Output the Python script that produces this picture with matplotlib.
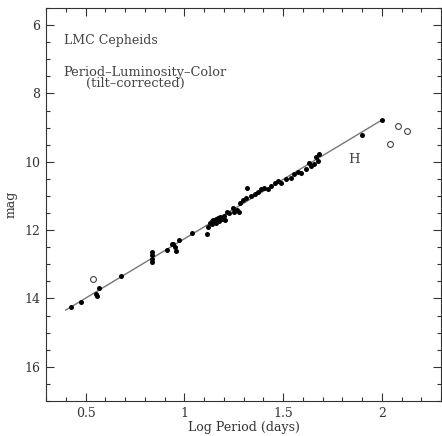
import numpy as np
import matplotlib
matplotlib.use('Agg')
import matplotlib.pyplot as plt
from matplotlib.ticker import MultipleLocator

# filled points: log period (days), H mag
logp = [0.426, 0.477, 0.554, 0.558, 0.569, 0.682,
        0.835, 0.835, 0.835, 0.838, 0.913, 0.936, 0.945, 0.951, 0.960, 0.973,
        1.040, 1.115, 1.120, 1.128, 1.138, 1.148, 1.159, 1.169, 1.179,
        1.143, 1.159, 1.174, 1.189, 1.200, 1.204, 1.218, 1.229, 1.251, 1.246,
        1.265, 1.276, 1.280, 1.296, 1.314, 1.319, 1.339, 1.356, 1.372, 1.389,
        1.406, 1.423, 1.440, 1.457, 1.473, 1.490, 1.516, 1.541, 1.558, 1.574,
        1.591, 1.617, 1.630, 1.642, 1.659, 1.675, 1.684, 1.667, 1.900, 2.003]
hmag = [14.24, 14.10, 13.86, 13.93, 13.69, 13.35,
        12.63, 12.72, 12.85, 12.92, 12.59, 12.41, 12.40, 12.50, 12.62, 12.29,
        12.09, 12.12, 11.91, 11.79, 11.74, 11.71, 11.68, 11.65, 11.63,
        11.82, 11.79, 11.74, 11.68, 11.59, 11.69, 11.46, 11.50, 11.46, 11.36,
        11.41, 11.46, 11.20, 11.13, 11.07, 10.76, 11.00, 10.95, 10.87, 10.80,
        10.76, 10.80, 10.71, 10.61, 10.56, 10.61, 10.51, 10.46, 10.36, 10.29,
        10.34, 10.21, 10.05, 10.12, 10.07, 9.97, 9.77, 9.87, 9.21, 8.79]

# rejected stars (open circles)
logp_rej = [0.536, 2.084, 2.130, 2.040]
hmag_rej = [13.42, 8.94, 9.11, 9.48]

# PL fit
fit_slope = -3.475
fit_intercept = 15.73
fit_range = [0.40, 2.00]

ink = '#333333'
serif = ['DejaVu Serif']

fig = plt.figure(figsize=(4.42, 4.36), dpi=100)
ax = fig.add_axes([46/442, 1-401/436, 395/442, 393/436])

xf = np.array(fit_range)
ax.plot(xf, np.polyval([fit_slope, fit_intercept], xf), color='#777777', lw=1.0, zorder=1)
ax.plot(logp, hmag, 'o', color='black', ms=3.6, mew=0, zorder=3)
ax.plot(logp_rej, hmag_rej, 'o', mfc='white', mec='#444444', ms=4.2, mew=0.8, zorder=3)

ax.set_xlim(0.3, 2.3)
ax.set_ylim(17, 5.5)
ax.set_xticks([0.5, 1, 1.5, 2], ['0.5', '1', '1.5', '2'])
ax.set_yticks([6, 8, 10, 12, 14, 16])
ax.xaxis.set_minor_locator(MultipleLocator(0.1))
ax.yaxis.set_minor_locator(MultipleLocator(0.5))
ax.tick_params(which='both', direction='in', top=True, right=True, color=ink, width=0.8,
               labelsize=9, labelcolor=ink, pad=4)
ax.tick_params(which='major', length=6)
ax.tick_params(which='minor', length=3)
for lab in ax.get_xticklabels() + ax.get_yticklabels():
    lab.set_family(serif)
for s in ax.spines.values():
    s.set_color(ink)
    s.set_linewidth(0.8)

ax.set_xlabel('Log Period (days)', family=serif, fontsize=9, color=ink, labelpad=1)
ax.set_ylabel('mag', family=serif, fontsize=9, color=ink, labelpad=5)

ax.text(0.39, 6.44, 'LMC Cepheids', family=serif, fontsize=9, color='#444444', va='center')
ax.text(0.39, 7.38, 'Period\u2013Luminosity\u2013Color', family=serif, fontsize=9.3, color='#444444', va='center')
ax.text(0.50, 7.72, '(tilt\u2013corrected)', family=serif, fontsize=9.3, color='#444444', va='center')
ax.text(1.83, 9.92, 'H', family=serif, fontsize=9.5, color='#444444', va='center')

fig.savefig('out.png', dpi=100)
